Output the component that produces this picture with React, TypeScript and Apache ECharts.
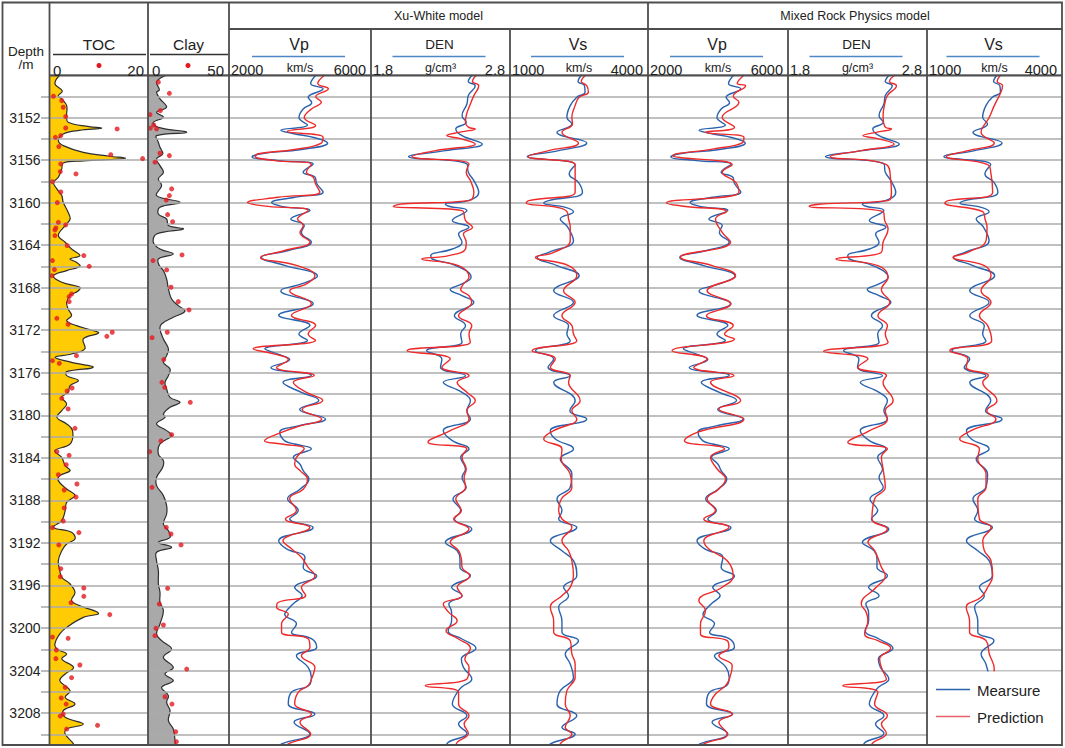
import React, { useEffect, useRef } from 'react';
import * as echarts from 'echarts';

type Curve = [number, number][]; // [depth (m), value]

const DEPTH_MIN = 3148;
const DEPTH_MAX = 3211;
const depthLabels = [3152, 3156, 3160, 3164, 3168, 3172, 3176, 3180, 3184, 3188, 3192, 3196, 3200, 3204, 3208];
const depthTicks = [3150, 3152, 3154, 3156, 3158, 3160, 3162, 3164, 3166, 3168, 3170, 3172, 3174, 3176, 3178, 3180, 3182, 3184, 3186, 3188, 3190, 3192, 3194, 3196, 3198, 3200, 3202, 3204, 3206, 3208, 3210];

const tocCurve: Curve = [[3147.8,2.4],[3148.8,1.0],[3149.5,2.5],[3149.94,1.7],[3150.25,2.4],[3150.88,3.4],[3151.82,3.4],[3152.45,3.7],[3152.85,8.0],[3153.0,10.5],[3153.2,6.0],[3153.54,2.7],[3154.17,1.7],[3154.64,2.7],[3155.27,6.8],[3155.64,12.2],[3155.83,15.3],[3156.08,6.8],[3156.27,2.7],[3156.83,2.4],[3157.62,1.7],[3158.09,0.7],[3158.71,1.4],[3159.34,2.4],[3159.97,2.7],[3160.91,3.7],[3161.54,4.1],[3162.16,3.1],[3163.1,1.7],[3163.73,3.1],[3164.36,4.4],[3164.98,6.1],[3165.3,4.1],[3165.61,5.4],[3165.99,6.1],[3166.39,3.4],[3166.87,0.7],[3167.49,2.4],[3167.96,6.1],[3168.28,5.8],[3168.75,4.1],[3169.37,3.4],[3170.0,3.7],[3170.63,4.4],[3171.1,3.4],[3171.57,5.4],[3172.0,8.5],[3172.26,9.9],[3172.82,6.8],[3173.76,7.1],[3174.23,4.4],[3174.55,1.0],[3175.02,4.4],[3175.49,8.8],[3175.89,3.4],[3176.27,3.4],[3176.74,5.8],[3177.21,4.1],[3177.84,3.7],[3178.31,2.4],[3178.93,3.4],[3179.56,2.4],[3180.19,1.4],[3180.81,3.4],[3181.44,4.6],[3182.69,4.1],[3183.32,1.0],[3183.95,2.4],[3184.73,3.1],[3185.2,4.1],[3185.67,2.0],[3186.14,1.7],[3186.93,3.4],[3187.55,5.1],[3188.18,3.4],[3188.96,3.1],[3189.9,2.4],[3190.53,0.7],[3191.0,4.4],[3191.63,5.1],[3192.1,3.4],[3192.73,2.4],[3193.67,1.7],[3194.6,2.0],[3195.23,2.4],[3195.86,4.1],[3196.64,5.1],[3197.43,4.4],[3197.9,6.1],[3198.62,9.9],[3199.0,6.8],[3199.94,3.4],[3200.56,2.0],[3201.5,1.0],[3201.97,1.4],[3202.44,3.4],[3202.91,2.4],[3203.7,4.8],[3204.32,3.1],[3204.95,2.0],[3205.89,4.1],[3206.52,3.1],[3207.15,5.1],[3207.77,2.7],[3208.4,3.1],[3209.03,6.8],[3209.5,3.4],[3209.97,3.1],[3210.9,4.8],[3211.2,4.8]];

const tocSamples: Curve = [[3150.0,0.7],[3150.41,2.4],[3151.03,2.7],[3151.91,3.2],[3153.07,13.7],[3152.98,3.2],[3153.86,1.1],[3153.7,2.2],[3154.73,1.8],[3155.49,12.4],[3155.86,18.9],[3156.36,2.2],[3157.08,2.1],[3157.3,5.3],[3158.03,0.5],[3159.0,2.2],[3160.0,1.5],[3161.85,1.7],[3162.1,3.2],[3162.38,1.2],[3162.57,1.0],[3163.1,1.0],[3164.04,3.5],[3164.98,6.9],[3165.45,0.5],[3165.99,8.0],[3166.3,0.9],[3166.87,0.4],[3168.59,4.4],[3168.84,3.9],[3169.31,3.9],[3170.88,1.4],[3171.44,3.7],[3172.19,12.7],[3172.57,11.6],[3174.39,5.4],[3174.86,0.5],[3175.11,1.9],[3177.43,4.5],[3177.71,3.5],[3178.4,2.4],[3179.4,3.7],[3181.22,5.1],[3183.42,1.4],[3183.76,3.9],[3184.64,3.3],[3185.58,1.7],[3186.46,5.5],[3187.02,2.9],[3187.68,5.3],[3188.71,2.9],[3189.94,2.7],[3190.56,0.5],[3191.03,5.9],[3192.19,1.8],[3194.42,2.2],[3195.17,2.1],[3196.24,6.9],[3197.02,6.9],[3197.62,4.3],[3198.74,12.2],[3200.85,0.5],[3200.97,3.7],[3202.07,1.3],[3202.88,1.2],[3203.48,6.1],[3204.67,4.4],[3205.58,3.1],[3206.58,2.3],[3207.15,3.3],[3208.09,2.7],[3208.28,2.1],[3209.15,9.7],[3209.5,3.4]];

const clayCurve: Curve = [[3147.8,14.6],[3148.6,5.4],[3149.4,7.0],[3149.62,5.3],[3150.25,7.4],[3151.03,11.5],[3151.5,5.3],[3151.97,9.5],[3152.45,3.3],[3152.92,6.4],[3153.39,23.9],[3153.7,5.3],[3154.33,6.4],[3154.8,7.4],[3155.42,9.1],[3155.89,5.3],[3156.52,7.4],[3157.15,9.5],[3157.77,6.4],[3158.4,8.4],[3159.34,5.3],[3159.97,19.8],[3160.44,7.4],[3161.07,6.4],[3161.54,11.5],[3162.16,12.6],[3162.48,21.8],[3162.95,5.3],[3163.73,3.3],[3164.36,7.4],[3164.83,15.6],[3165.3,6.4],[3165.92,7.0],[3166.39,9.5],[3167.18,11.5],[3168.12,12.6],[3169.06,14.6],[3169.69,18.7],[3170.22,22.8],[3170.78,15.6],[3171.41,8.4],[3171.88,7.4],[3172.82,9.5],[3173.76,12.6],[3174.39,11.5],[3175.02,9.5],[3175.64,13.6],[3176.27,12.6],[3176.9,10.5],[3177.52,11.5],[3178.31,13.6],[3178.78,19.8],[3179.25,13.6],[3179.87,9.5],[3180.19,10.5],[3180.81,5.3],[3181.44,11.5],[3181.91,14.6],[3182.69,7.4],[3183.64,6.4],[3184.26,9.5],[3184.89,9.1],[3185.83,5.3],[3186.61,5.3],[3187.55,9.5],[3188.49,11.5],[3189.28,11.5],[3190.22,9.5],[3190.85,12.6],[3191.47,13.6],[3191.94,6.4],[3192.41,14.6],[3192.88,5.3],[3193.67,5.3],[3194.6,6.4],[3195.86,6.4],[3196.64,7.4],[3197.58,7.4],[3198.37,9.5],[3199.62,7.4],[3200.56,5.3],[3201.19,8.4],[3201.97,14.6],[3202.76,9.5],[3203.7,15.6],[3204.32,10.5],[3204.95,15.6],[3205.58,8.4],[3206.36,12.6],[3206.99,11.5],[3207.77,13.6],[3208.71,12.6],[3209.5,15.6],[3210.6,16.7],[3211.2,17.0]];

const claySamples: Curve = [[3148.67,6.4],[3149.72,13.2],[3151.35,7.6],[3151.72,1.2],[3152.7,3.5],[3153.0,1.4],[3153.07,5.3],[3155.36,7.4],[3155.58,13.2],[3156.2,4.3],[3158.71,14.6],[3159.34,13.2],[3159.75,11.3],[3161.13,12.1],[3161.79,15.2],[3164.92,21.0],[3165.45,3.1],[3166.33,11.5],[3167.96,14.2],[3169.31,18.7],[3170.09,25.3],[3172.19,11.9],[3172.7,2.5],[3174.76,9.7],[3176.9,8.6],[3177.37,10.3],[3178.78,26.1],[3181.82,14.6],[3182.41,8.0],[3183.42,1.0],[3186.77,2.5],[3190.53,11.3],[3191.16,14.2],[3192.19,20.4],[3196.27,12.1],[3197.74,7.0],[3199.72,9.5],[3200.03,4.9],[3200.72,4.3],[3203.86,23.9],[3206.46,10.5],[3207.15,14.8],[3209.75,17.1],[3210.69,17.5]];

const vpMeasured: Curve = [[3148.0,4450],[3148.8,4300],[3149.3,4650],[3150.1,4230],[3150.6,4330],[3151.2,4090],[3152.0,3970],[3152.7,4210],[3153.2,3460],[3153.5,3800],[3153.9,4420],[3154.4,4780],[3155.0,4040],[3155.4,2910],[3155.7,2650],[3156.05,3380],[3156.4,4370],[3157.15,4090],[3157.6,4420],[3158.2,4470],[3159.0,4650],[3159.5,3850],[3160.0,3200],[3160.35,3480],[3160.75,4280],[3161.55,3740],[3162.15,4120],[3162.8,4040],[3163.7,4320],[3164.5,3670],[3165.15,2910],[3165.9,3570],[3166.9,4490],[3167.65,4040],[3168.3,3460],[3169.5,4370],[3170.6,3400],[3171.55,4280],[3172.35,3970],[3172.95,4210],[3173.75,3010],[3174.25,3380],[3174.75,3710],[3175.5,3180],[3176.25,4320],[3176.9,3520],[3177.85,4040],[3178.6,4530],[3179.45,3990],[3180.35,4720],[3181.0,3950],[3181.6,3430],[3182.4,3570],[3182.7,3850],[3183.15,4320],[3183.95,3810],[3184.6,4000],[3185.2,4090],[3186.0,4250],[3186.95,4000],[3187.85,3650],[3188.95,3950],[3189.75,3710],[3190.55,4370],[3191.8,3400],[3192.55,3620],[3193.35,4140],[3194.3,4090],[3195.1,4470],[3196.2,3850],[3196.95,4060],[3197.6,3850],[3198.05,3710],[3198.7,3570],[3199.6,3900],[3200.4,3760],[3201.0,4320],[3201.8,4470],[3202.6,3900],[3203.7,4230],[3204.65,4320],[3205.4,4250],[3206.05,3760],[3207.15,3670],[3208.1,4420],[3208.85,3830],[3209.95,4280],[3210.9,3480],[3211.2,3420]];

const vpXuPred: Curve = [[3148.0,4700],[3148.8,4500],[3149.3,4800],[3150.05,4440],[3150.55,4600],[3151.2,4320],[3152.0,4120],[3152.75,4440],[3153.3,3640],[3153.85,4650],[3154.4,4600],[3155.0,3850],[3155.4,2820],[3155.65,2740],[3156.05,3290],[3156.4,4320],[3157.15,4180],[3157.6,4370],[3158.25,4440],[3159.0,4560],[3159.5,3380],[3160.0,2520],[3160.35,3100],[3160.75,4230],[3161.55,3930],[3162.15,4090],[3162.8,4000],[3163.7,4280],[3164.5,3570],[3165.15,2890],[3165.9,3900],[3166.9,4420],[3167.65,4180],[3168.3,3710],[3169.5,4320],[3170.6,3760],[3171.55,4440],[3172.35,4230],[3172.95,4440],[3173.75,2680],[3174.25,3290],[3174.75,3670],[3175.5,3340],[3176.25,4400],[3176.9,3810],[3177.85,4180],[3178.6,4640],[3179.45,4060],[3180.35,4610],[3181.0,4000],[3181.6,3480],[3182.4,3000],[3182.7,3480],[3183.15,4120],[3183.95,3900],[3184.6,3850],[3185.2,4000],[3186.0,4210],[3186.95,4090],[3187.85,3710],[3188.95,3900],[3189.75,3590],[3190.55,4280],[3191.8,3520],[3192.55,3760],[3193.35,4040],[3194.3,4230],[3195.1,4420],[3196.2,4040],[3196.95,4160],[3197.6,3380],[3198.05,3340],[3198.7,3670],[3199.6,3480],[3200.4,3480],[3201.0,4230],[3201.8,4280],[3202.6,4040],[3203.7,4420],[3204.65,4340],[3205.4,4230],[3206.05,3950],[3207.15,3850],[3208.1,4320],[3208.85,4000],[3209.95,4300],[3210.9,3670],[3211.2,3600]];

const denMeasured: Curve = [[3148.0,2.53],[3148.6,2.50],[3149.0,2.55],[3149.94,2.50],[3150.72,2.49],[3151.82,2.455],[3152.45,2.485],[3153.07,2.41],[3153.7,2.455],[3154.48,2.60],[3155.11,2.335],[3155.67,2.07],[3156.36,2.49],[3157.15,2.50],[3157.93,2.54],[3159.03,2.575],[3159.81,2.50],[3160.13,2.335],[3160.34,2.36],[3160.75,2.49],[3161.69,2.385],[3162.32,2.505],[3162.95,2.43],[3163.73,2.455],[3164.36,2.385],[3164.98,2.23],[3165.3,2.24],[3165.92,2.41],[3167.02,2.52],[3167.65,2.455],[3168.18,2.37],[3168.75,2.455],[3169.37,2.54],[3170.63,2.40],[3171.57,2.48],[3172.35,2.445],[3173.13,2.455],[3173.92,2.20],[3174.7,2.31],[3175.49,2.30],[3176.27,2.48],[3176.9,2.32],[3177.84,2.455],[3178.62,2.515],[3179.56,2.49],[3180.34,2.515],[3181.44,2.32],[3182.38,2.385],[3183.17,2.505],[3183.95,2.445],[3185.05,2.48],[3185.83,2.455],[3186.77,2.485],[3187.87,2.39],[3188.96,2.445],[3189.75,2.40],[3190.69,2.525],[3191.94,2.335],[3192.73,2.42],[3193.51,2.44],[3194.29,2.44],[3195.08,2.515],[3196.17,2.38],[3196.96,2.455],[3197.74,2.36],[3198.53,2.38],[3199.31,2.38],[3200.25,2.355],[3201.03,2.455],[3201.91,2.555],[3202.91,2.45],[3203.7,2.465],[3204.8,2.525],[3205.52,2.455],[3206.05,2.42],[3207.15,2.385],[3208.24,2.49],[3209.03,2.43],[3209.9,2.49],[3210.75,2.355],[3211.2,2.34]];

const denXuPred: Curve = [[3148.0,2.56],[3148.6,2.53],[3149.0,2.575],[3149.94,2.54],[3150.72,2.515],[3151.82,2.485],[3152.45,2.48],[3152.9,2.50],[3153.07,2.55],[3153.35,2.45],[3153.7,2.345],[3154.0,2.45],[3154.48,2.55],[3155.11,2.265],[3155.67,2.095],[3156.36,2.505],[3157.15,2.485],[3157.93,2.515],[3159.03,2.54],[3159.81,2.505],[3160.13,2.02],[3160.34,1.96],[3160.75,2.455],[3161.69,2.48],[3162.32,2.53],[3162.95,2.465],[3163.73,2.485],[3164.36,2.48],[3164.98,2.36],[3165.3,2.165],[3165.92,2.43],[3167.02,2.505],[3167.65,2.465],[3168.18,2.445],[3168.75,2.505],[3169.37,2.525],[3170.63,2.43],[3171.57,2.525],[3172.35,2.505],[3173.13,2.515],[3173.92,2.06],[3174.7,2.37],[3175.49,2.31],[3176.27,2.505],[3176.9,2.42],[3177.84,2.49],[3178.62,2.55],[3179.56,2.49],[3180.34,2.505],[3181.44,2.37],[3182.5,2.21],[3183.17,2.49],[3183.95,2.455],[3185.05,2.485],[3185.83,2.47],[3186.77,2.48],[3187.87,2.41],[3188.96,2.45],[3189.75,2.395],[3190.69,2.505],[3191.94,2.37],[3192.73,2.43],[3193.51,2.45],[3194.29,2.455],[3195.08,2.51],[3196.17,2.42],[3196.96,2.455],[3197.74,2.32],[3198.53,2.36],[3199.31,2.42],[3200.25,2.34],[3201.03,2.43],[3201.91,2.515],[3202.91,2.475],[3203.7,2.505],[3204.8,2.49],[3205.42,2.19],[3206.05,2.43],[3207.15,2.43],[3208.24,2.505],[3209.03,2.47],[3209.9,2.5],[3210.75,2.42],[3211.2,2.41]];

const vsMeasured: Curve = [[3148.0,2560],[3148.6,2480],[3149.0,2618],[3149.62,2632],[3150.09,2452],[3150.88,2309],[3151.97,2237],[3152.6,2345],[3153.39,2021],[3154.39,2668],[3155.11,2057],[3155.67,1374],[3156.43,2416],[3157.3,2287],[3158.09,2488],[3159.03,2575],[3159.81,1841],[3160.03,1733],[3160.44,2201],[3160.85,2380],[3161.54,2093],[3162.32,2258],[3163.57,2380],[3164.67,1841],[3165.14,1590],[3165.92,2021],[3166.87,2503],[3168.28,1949],[3169.37,2380],[3170.63,1949],[3171.57,2273],[3172.35,2237],[3172.98,2309],[3173.92,1554],[3174.7,1949],[3175.49,1827],[3176.27,2309],[3176.9,1949],[3178.62,2416],[3179.56,2300],[3180.34,2668],[3181.44,1877],[3182.22,1985],[3183.17,2380],[3184.1,2093],[3185.52,2345],[3186.77,2309],[3187.87,2021],[3188.96,2129],[3189.75,2057],[3190.53,2452],[3191.79,1877],[3192.73,2129],[3193.67,2380],[3195.08,2452],[3196.17,2165],[3196.96,2273],[3198.05,2057],[3199.31,2129],[3200.4,2129],[3201.19,2488],[3202.44,2201],[3203.38,2309],[3204.64,2380],[3205.89,2093],[3207.15,2021],[3208.24,2452],[3209.34,2129],[3209.97,2416],[3210.9,1877],[3211.2,1850]];

const vsXuPred: Curve = [[3148.0,2650],[3148.6,2550],[3149.0,2668],[3149.62,2704],[3150.09,2503],[3150.88,2416],[3151.97,2345],[3152.6,2359],[3153.39,2129],[3154.39,2488],[3155.11,1841],[3155.67,1395],[3156.43,2416],[3157.3,2416],[3158.09,2416],[3159.03,2416],[3159.81,1410],[3160.03,1352],[3160.44,2021],[3160.85,2237],[3161.54,2273],[3162.32,2309],[3163.57,2309],[3164.67,1949],[3165.14,1554],[3165.92,2273],[3166.87,2452],[3168.28,2165],[3169.37,2416],[3170.63,2129],[3171.57,2345],[3172.35,2380],[3172.98,2452],[3173.92,1482],[3174.7,1985],[3175.49,1877],[3176.27,2309],[3176.9,2273],[3178.62,2524],[3179.56,2345],[3180.34,2452],[3181.44,1949],[3182.22,1733],[3183.17,2129],[3184.1,2115],[3185.52,2309],[3186.77,2345],[3187.87,2115],[3188.96,2057],[3189.75,2129],[3190.53,2345],[3191.79,2129],[3192.73,2273],[3193.67,2345],[3195.08,2380],[3196.17,2309],[3196.96,2129],[3198.05,1877],[3199.31,1949],[3200.4,1949],[3201.19,2309],[3202.44,2345],[3203.38,2416],[3204.64,2416],[3205.89,2237],[3207.15,2201],[3208.24,2309],[3209.34,2201],[3209.97,2345],[3210.9,2093],[3211.2,2080]];

const vpMixPred: Curve = [[3148.0,4750],[3148.8,4550],[3149.0,4789],[3150.0,4435],[3150.56,4598],[3151.97,4120],[3152.92,4473],[3153.39,3643],[3153.86,4741],[3154.39,4693],[3154.95,3881],[3155.58,2716],[3156.43,4407],[3157.15,4120],[3158.09,4502],[3159.03,4598],[3160.03,2525],[3160.34,3022],[3160.85,4244],[3161.54,3929],[3162.79,4120],[3163.73,4359],[3165.14,2926],[3165.92,3834],[3166.87,4502],[3168.28,3690],[3169.53,4359],[3170.63,3671],[3171.57,4435],[3172.35,4187],[3172.82,4473],[3173.92,2688],[3174.7,3690],[3175.49,3308],[3176.27,4454],[3176.9,3786],[3178.62,4645],[3179.4,4025],[3180.34,4741],[3181.6,3404],[3182.38,3041],[3183.17,4187],[3183.95,3786],[3185.05,3977],[3185.99,4216],[3186.93,4025],[3187.87,3690],[3188.96,3929],[3189.75,3595],[3190.53,4311],[3191.79,3595],[3192.57,3738],[3193.67,4263],[3195.08,4435],[3196.17,4120],[3197.43,3452],[3198.37,3643],[3199.62,3499],[3200.56,3499],[3201.19,4263],[3201.82,4311],[3202.6,4025],[3203.54,4407],[3204.64,4340],[3205.42,4216],[3206.21,3929],[3207.15,3786],[3208.09,4407],[3208.87,4025],[3209.97,4263],[3210.9,3595],[3211.2,3550]];

const denMixPred: Curve = [[3148.0,2.57],[3148.6,2.53],[3149.0,2.58],[3149.94,2.515],[3150.72,2.496],[3151.82,2.484],[3152.9,2.50],[3153.07,2.544],[3153.35,2.45],[3153.7,2.339],[3154.0,2.45],[3154.48,2.563],[3155.11,2.327],[3155.67,2.104],[3156.43,2.508],[3157.93,2.539],[3159.03,2.544],[3159.81,2.52],[3160.13,2.037],[3160.34,1.952],[3160.85,2.484],[3161.69,2.496],[3162.48,2.52],[3163.73,2.484],[3164.67,2.472],[3165.3,2.145],[3165.92,2.447],[3167.02,2.52],[3168.18,2.472],[3169.37,2.532],[3170.63,2.447],[3171.57,2.515],[3172.35,2.50],[3173.13,2.52],[3173.98,2.056],[3174.7,2.375],[3175.49,2.302],[3176.27,2.508],[3176.9,2.484],[3178.62,2.556],[3179.56,2.50],[3180.34,2.515],[3181.44,2.387],[3182.54,2.23],[3183.17,2.515],[3183.95,2.472],[3185.05,2.484],[3186.77,2.50],[3187.87,2.423],[3189.75,2.404],[3190.69,2.515],[3191.94,2.375],[3192.73,2.423],[3194.29,2.472],[3195.08,2.50],[3196.17,2.435],[3197.74,2.327],[3198.53,2.363],[3199.31,2.375],[3200.56,2.351],[3201.19,2.447],[3201.91,2.539],[3202.91,2.459],[3203.7,2.472],[3204.8,2.508],[3205.42,2.194],[3206.05,2.447],[3207.15,2.423],[3208.24,2.515],[3209.03,2.472],[3209.9,2.508],[3210.9,2.404],[3211.2,2.40]];

const vsMixPred: Curve = [[3148.0,2640],[3148.6,2560],[3149.0,2679],[3149.62,2642],[3150.88,2495],[3151.97,2385],[3153.39,2202],[3154.39,2495],[3155.11,1909],[3155.67,1432],[3156.43,2349],[3157.3,2422],[3159.03,2459],[3159.81,1469],[3160.03,1396],[3160.85,2239],[3161.54,2290],[3162.32,2334],[3163.57,2312],[3164.67,1909],[3165.14,1579],[3165.92,2275],[3166.87,2422],[3168.28,2202],[3169.37,2422],[3170.63,2165],[3171.57,2349],[3172.98,2437],[3173.92,1506],[3174.7,1909],[3175.49,1872],[3176.27,2363],[3176.9,2239],[3178.62,2554],[3179.56,2330],[3180.34,2532],[3181.44,1982],[3182.22,1726],[3183.17,2165],[3184.1,2129],[3185.52,2312],[3186.77,2312],[3187.87,2129],[3189.75,2165],[3190.53,2422],[3191.79,2239],[3192.73,2275],[3193.67,2422],[3195.08,2459],[3196.17,2349],[3197.11,2202],[3198.05,1872],[3199.31,1946],[3200.4,1946],[3201.19,2312],[3202.44,2385],[3203.86,2495],[3204.3,2480]];

// measured Vs is shown only down to ~3204 m in the mixed-model panel (legend area below)
const MIX_VS_END = 3204.7;

const FONT = '"Liberation Sans", Arial, Helvetica, sans-serif';
const BLUE = '#2a62ad';
const RED = '#ee2a2a';
const BORDER = '#4d4d4d';
const GRIDC = '#ababab';
const TOP = 75;
const HEIGHT = 670;

const tracks = [
  { left: 50, width: 98, min: 0, max: 20 },
  { left: 148, width: 81, min: 0, max: 50 },
  { left: 229, width: 142, min: 2000, max: 6000 },
  { left: 371, width: 139, min: 1.8, max: 2.8 },
  { left: 510, width: 138, min: 1000, max: 4000 },
  { left: 648, width: 140, min: 2000, max: 6000 },
  { left: 788, width: 139, min: 1.8, max: 2.8 },
  { left: 927, width: 135, min: 1000, max: 4000 },
];

const toXY = (c: Curve) => c.map(([d, v]) => [v, d]);

function buildOption() {
  const grid = tracks.map((t) => ({ left: t.left, top: TOP, width: t.width, height: HEIGHT, containLabel: false, outerBoundsMode: 'none' }));
  const xAxis = tracks.map((t, i) => ({ type: 'value', gridIndex: i, min: t.min, max: t.max, show: false }));
  const yAxis: any[] = tracks.map((_t, i) => ({
    type: 'value', gridIndex: i, min: DEPTH_MIN, max: DEPTH_MAX, inverse: true, interval: 2,
    z: i < 2 ? 10 : 0,
    axisLine: { show: false }, axisTick: { show: false }, axisLabel: { show: false },
    splitLine: { show: true, lineStyle: { color: GRIDC, width: 1.6 } },
  }));
  yAxis.push({
    type: 'value', gridIndex: 0, position: 'left', min: DEPTH_MIN, max: DEPTH_MAX, inverse: true, interval: 2,
    axisLine: { show: false }, splitLine: { show: false },
    axisTick: { show: true, length: 9, customValues: depthTicks, lineStyle: { color: GRIDC, width: 1.6 } },
    axisLabel: { show: true, customValues: depthLabels, margin: 9.5, fontSize: 14, color: '#222', fontFamily: FONT,
      formatter: (v: number) => (v === DEPTH_MIN ? '' : String(v)) },
  });

  const fillSeries = (idx: number, curve: Curve, fill: string) => ({
    type: 'custom', xAxisIndex: idx, yAxisIndex: idx, clip: true, silent: true, z: 3,
    data: [[0, curve[0][0]]],
    renderItem: (_p: any, api: any) => {
      const pts = curve.map(([d, v]) => api.coord([v, d]));
      const d0 = curve[0][0];
      const d1 = curve[curve.length - 1][0];
      const poly = [api.coord([0, d0 - 3]), api.coord([0, d0]), ...pts, api.coord([0, d1]), api.coord([0, d1 + 3])];
      return {
        type: 'group',
        children: [
          { type: 'polygon', shape: { points: poly, smooth: 0.4 }, style: { fill, stroke: 'none', lineWidth: 0 } },
          { type: 'polyline', shape: { points: pts, smooth: 0.4 }, style: { fill: 'none', stroke: '#2e2e2e', lineWidth: 1.2 } },
        ],
      };
    },
  });
  const dots = (idx: number, samples: Curve) => ({
    type: 'scatter', xAxisIndex: idx, yAxisIndex: idx, data: toXY(samples), symbolSize: 5, z: 12,
    itemStyle: { color: '#e3191f' }, silent: true,
  });
  const line = (idx: number, curve: Curve, color: string) => ({
    type: 'line', xAxisIndex: idx, yAxisIndex: idx, data: toXY(curve), showSymbol: false, symbol: 'none',
    smooth: 0.45, lineStyle: { color, width: 1.4 }, z: color === RED ? 4 : 3, silent: true,
  });

  const vsMeasuredMix = vsMeasured.filter(([d]) => d <= MIX_VS_END);

  const series: any[] = [
    fillSeries(0, tocCurve, '#FFCB05'),
    dots(0, tocSamples),
    fillSeries(1, clayCurve, '#A9A9A9'),
    dots(1, claySamples),
    line(2, vpMeasured, BLUE), line(2, vpXuPred, RED),
    line(3, denMeasured, BLUE), line(3, denXuPred, RED),
    line(4, vsMeasured, BLUE), line(4, vsXuPred, RED),
    line(5, vpMeasured, BLUE), line(5, vpMixPred, RED),
    line(6, denMeasured, BLUE), line(6, denMixPred, RED),
    line(7, vsMeasuredMix, BLUE), line(7, vsMixPred, RED),
  ];

  const G: any[] = [];
  const L = (x1: number, y1: number, x2: number, y2: number, stroke = BORDER, w = 1.8, z = 100) =>
    G.push({ type: 'line', silent: true, z, shape: { x1, y1, x2, y2 }, style: { stroke, lineWidth: w } });
  const T = (text: string, x: number, y: number, size: number, align = 'center', color = '#222') =>
    G.push({ type: 'text', silent: true, z: 100, x, y,
      style: { text, fontSize: size, fontFamily: FONT, fill: color, textAlign: align, align, textVerticalAlign: 'middle', verticalAlign: 'middle' } });

  // legend box (covers grid lines and curve ends in the last track)
  G.push({ type: 'rect', silent: true, z: 90, shape: { x: 928, y: 671.5, width: 133, height: 73 }, style: { fill: '#ffffff', stroke: 'none' } });

  // frame
  G.push({ type: 'rect', silent: true, z: 100, shape: { x: 2.5, y: 2.5, width: 1059.5, height: 742.5 }, style: { fill: 'none', stroke: BORDER, lineWidth: 1.8 } });
  [49.5, 148, 229, 648].forEach((x) => L(x, 2.5, x, 745));
  [371, 510, 788, 927].forEach((x) => L(x, 29, x, 745));
  L(229, 29, 1062, 29);
  L(49.5, 75.5, 1062, 75.5);

  // depth header
  T('Depth', 26, 51, 13.5);
  T('/m', 26, 64, 13.5);

  // TOC / Clay headers
  T('TOC', 99, 44, 15.5);
  L(53, 54.5, 146, 54.5, '#333', 1.5);
  T('0', 53, 70, 15, 'left');
  T('20', 144, 70, 15, 'right');
  G.push({ type: 'circle', silent: true, z: 100, shape: { cx: 99, cy: 65.5, r: 2.5 }, style: { fill: '#e3191f' } });
  T('Clay', 188.5, 44, 15.5);
  L(150, 54.5, 228, 54.5, '#333', 1.5);
  T('0', 152, 70, 15, 'left');
  T('50', 224, 70, 15, 'right');
  G.push({ type: 'circle', silent: true, z: 100, shape: { cx: 188, cy: 65.5, r: 2.5 }, style: { fill: '#e3191f' } });

  // model titles
  T('Xu-White model', 438.5, 16, 12.5);
  T('Mixed Rock Physics model', 855, 16, 12.5);

  const heads = [
    { name: 'Vp', unit: 'km/s', lo: '2000', hi: '6000', size: 16 },
    { name: 'DEN', unit: 'g/cm³', lo: '1.8', hi: '2.8', size: 13.5 },
    { name: 'Vs', unit: 'km/s', lo: '1000', hi: '4000', size: 16 },
  ];
  for (let k = 2; k < 8; k++) {
    const t = tracks[k];
    const h = heads[(k - 2) % 3];
    const cx = t.left + t.width / 2;
    T(h.name, cx - 1, 44.5, h.size);
    L(cx - 48, 56.5, cx + 45, 56.5, '#4f86c6', 1.5);
    T(h.lo, t.left + 2, 70, 14.5, 'left');
    T(h.hi, t.left + t.width - 5, 70, 14.5, 'right');
    T(h.unit, cx, 68, 12.5);
  }

  // legend
  L(936, 689.5, 970, 689.5, BLUE, 1.4, 95);
  L(936, 716.5, 970, 716.5, '#e8626a', 1.4, 95);
  T('Mearsure', 977, 690, 15, 'left');
  T('Prediction', 977, 717, 15, 'left');

  return {
    animation: false,
    backgroundColor: '#ffffff',
    textStyle: { fontFamily: FONT },
    grid, xAxis, yAxis, series,
    graphic: { elements: G },
  };
}

export default function App() {
  const ref = useRef<HTMLDivElement>(null);
  useEffect(() => {
    if (!ref.current) return;
    const chart = echarts.init(ref.current, null, { renderer: 'svg' });
    chart.setOption(buildOption() as any);
    return () => chart.dispose();
  }, []);
  return (
    <div
      ref={ref}
      style={{ position: 'absolute', left: 0, top: 0, width: 1065, height: 748, background: '#fff' }}
    />
  );
}
